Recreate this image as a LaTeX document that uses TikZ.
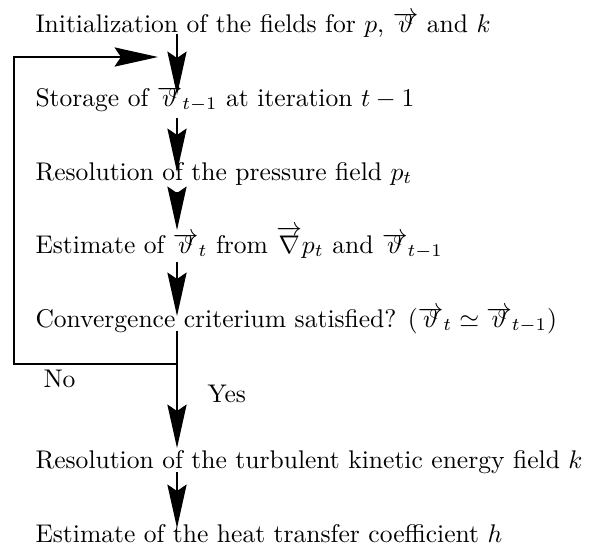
\documentclass[tikz,border=0pt]{standalone}
\usepackage{amsmath}
\usepackage{amssymb}
\usepackage{tikz}
\usetikzlibrary{arrows.meta,calc}
\newcommand{\vth}{\overrightarrow{\smash{\vartheta}\vphantom{a}}}
\tikzset{
  flow/.style={-{Stealth[length=17pt,width=7.5pt,inset=2.5pt]},black,line width=0.8pt},
  txt/.style={anchor=base west,inner sep=0pt},
}

\begin{document}
\begin{tikzpicture}[x=0.3914pt,y=-0.3914pt]
  \useasboundingbox (0,0) rectangle (593,548);
  \node[txt] (init)  at (35,32)  {Initialization of the fields for $p$, $\vth$ and $k$};
  \node[txt] (store) at (35,106) {Storage of $\vth_{t-1}$ at iteration $t-1$};
  \node[txt] (pres)  at (35,180) {Resolution of the pressure field $p_t$};
  \node[txt] (velo)  at (35,253) {Estimate of $\vth_t$ from $\overrightarrow{\nabla}p_t$ and $\vth_{t-1}$};
  \node[txt] (conv)  at (35,327) {Convergence criterium satisfied? ($\vth_t\simeq\vth_{t-1}$)};
  \node[txt] (no)    at (43,387) {No};
  \node[txt] (yes)   at (207,402) {Yes};
  \node[txt] (resk)  at (35,468) {Resolution of the turbulent kinetic energy field $k$};
  \node[txt] (heat)  at (35,542) {Estimate of the heat transfer coefficient $h$};
  \coordinate (col) at (177,0);
  \coordinate (junc) at ($(conv.base -| col)+(0,37)$);
  \coordinate (ret) at ($(store.base west)+(123,-49)$);
  \draw[flow] ($(init.base -| col)+(0,2)$)  -- ($(store.base -| col)+(0,-11)$);
  \draw[flow] ($(store.base -| col)+(0,12)$) -- ($(pres.base -| col)+(0,-8)$);
  \draw[flow] ($(pres.base -| col)+(0,12)$)  -- ($(velo.base -| col)+(0,-23)$);
  \draw[flow] ($(velo.base -| col)+(0,9)$)   -- ($(conv.base -| col)+(0,-11)$);
  \draw[flow] ($(conv.base -| col)+(0,4)$)   -- ($(resk.base -| col)+(0,-20)$);
  \draw[flow] ($(resk.base -| col)+(0,4)$)   -- ($(heat.base -| col)+(0,-14)$);
  \draw[flow] (junc) -- ++(-163,0) |- (ret);
\end{tikzpicture}
\end{document}
